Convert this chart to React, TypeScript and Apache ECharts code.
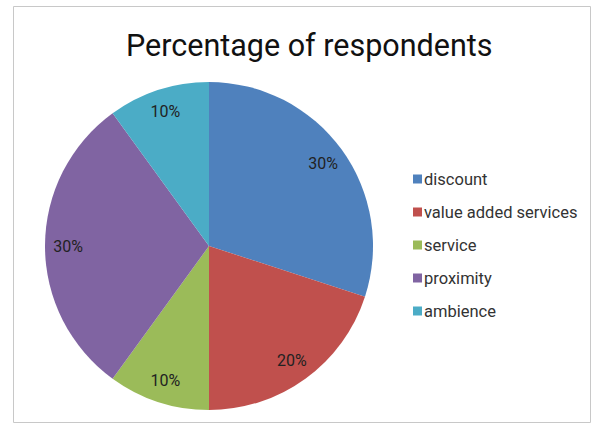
import React, { useEffect, useRef } from "react";
import * as echarts from "echarts";

const categories = ["discount", "value added services", "service", "proximity", "ambience"];
const values = [30, 20, 10, 30, 10];
const colors = ["#4F81BD", "#C0504D", "#9BBB59", "#8064A2", "#4BACC6"];
const titleText = "Percentage of respondents";

export default function App() {
  const ref = useRef<HTMLDivElement>(null);
  useEffect(() => {
    if (!ref.current) return;
    const chart = echarts.init(ref.current, undefined, { renderer: "svg" });
    const data = categories.map((name, i) => ({ name, value: values[i], itemStyle: { color: colors[i] } }));
    chart.setOption({
      animation: false,
      backgroundColor: "#ffffff",
      textStyle: { fontFamily: "Roboto" },
      title: {
        text: titleText,
        left: 121,
        top: 25,
        textStyle: { fontSize: 30.5, fontWeight: "normal", color: "#111", fontFamily: "Roboto" },
      },
      legend: {
        orient: "vertical",
        left: 408,
        top: 165,
        itemWidth: 9,
        itemHeight: 9,
        itemGap: 15,
        icon: "rect",
        data: categories,
        textStyle: { fontSize: 16.5, color: "#333", lineHeight: 18, padding: [0, 0, 0, -3] },
      },
      graphic: [
        {
          type: "rect",
          shape: { x: 13.5, y: 6.5, width: 577, height: 416 },
          style: { fill: "none", stroke: "#c8c8c8", lineWidth: 1 },
          silent: true,
          z: 100,
        },
      ],
      series: [
        {
          type: "pie",
          center: [209, 246],
          radius: [0, 164],
          startAngle: 90,
          clockwise: true,
          data,
          label: { show: false },
          labelLine: { show: false },
          itemStyle: { borderWidth: 0 },
          emphasis: { disabled: true },
        },
        {
          type: "pie",
          center: [209, 246],
          radius: [112, 164],
          startAngle: 90,
          clockwise: true,
          data: categories.map((name, i) => ({ name, value: values[i] })),
          itemStyle: { color: "rgba(0,0,0,0)", borderWidth: 0 },
          label: {
            show: true,
            position: "inside",
            formatter: (p: any) => p.value + "%",
            fontSize: 16,
            color: "#222",
            fontFamily: "Roboto",
          },
          labelLine: { show: false },
          silent: true,
          emphasis: { disabled: true },
          legendHoverLink: false,
        },
      ],
    });
    return () => chart.dispose();
  }, []);
  return (
    <div style={{ position: "fixed", left: 0, top: 0, width: 592, height: 426 }}>
      <div ref={ref} style={{ width: 592, height: 426 }} />
    </div>
  );
}
